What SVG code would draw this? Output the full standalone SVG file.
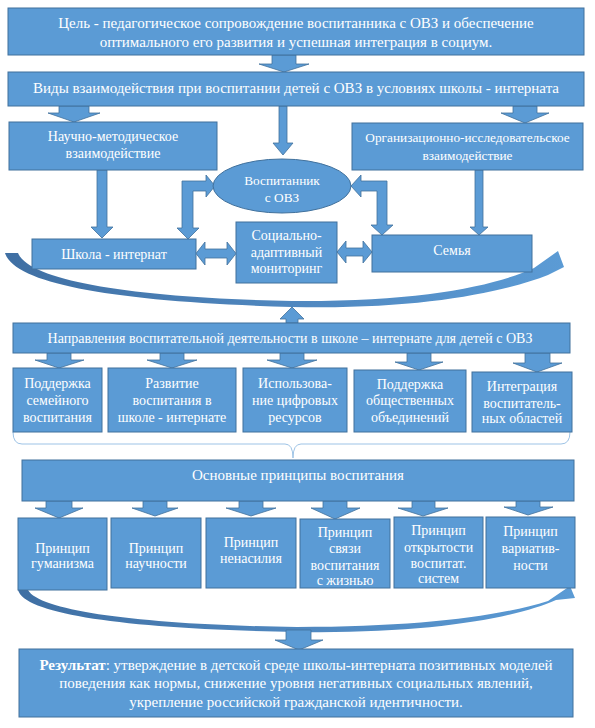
<svg xmlns="http://www.w3.org/2000/svg" width="595" height="728" viewBox="0 0 595 728">
<style>
.box{fill:#5B9BD5;stroke:#41719C;stroke-width:1}
.arr{fill:#5B9BD5;stroke:#41719C;stroke-width:0.8}
.t{font-family:"Liberation Serif","Times New Roman",serif;fill:#fff;text-anchor:middle;font-size:15px}
.s14{font-size:14px}
.s13{font-size:13.3px}
.brace{fill:none;stroke:#9DC3E6;stroke-width:1}
</style>
<defs>
<linearGradient id="cg" x1="0" y1="0" x2="1" y2="0">
<stop offset="0" stop-color="#3F6FA3"/>
<stop offset="0.5" stop-color="#4F87BF"/>
<stop offset="1" stop-color="#5B9BD5"/>
</linearGradient>
</defs>
<rect width="595" height="728" fill="#fff"/>

<g id="connectors">
<path d="M5,253 C15,285 120,302 292,307 C420,310 505,292 548,275 L564,267 L558,251 L534,268 C495,286 420,302 292,301 C140,298 30,282 18,253 Z" fill="url(#cg)"/>
<path d="M18,590 C25,615 130,629 297,632 C430,634 515,618 556,600 L575,598 L570,586 L548,601 C500,616 420,627 297,627 C150,625 40,612 28,590 Z" fill="url(#cg)"/>
<polygon class="arr" points="272,55 296,55 296,64 309,64 284,72 259,64 272,64"/>
<polygon class="arr" points="59,106 89,106 89,113 100,113 74,122 48,113 59,113"/>
<polygon class="arr" points="279,106 287,106 287,143 293,143 283,155 273,143 279,143"/>
<polygon class="arr" points="513,106 537,106 537,113 549,113 525,123 501,113 513,113"/>
<polygon class="arr" points="97,170 107,170 107,227 113,227 102,238 91,227 97,227"/>
<polygon class="arr" points="475,170 483,170 483,227 488,227 479,235 470,227 475,227"/>
<polygon class="arr" points="182,181 206,181 206,175 215,186 206,197 206,191 193,191 193,228 199,228 188,239 177,228 182,228"/>
<polygon class="arr" points="387,181 361,181 361,175 351,186 361,197 361,191 377,191 377,225 371,225 382,235 393,225 387,225"/>
<polygon class="arr" points="196,253.5 205,242 205,249 227,249 227,242 236,253.5 227,265 227,258 205,258 205,265"/>
<polygon class="arr" points="337,252 346,241 346,248 363,248 363,241 372,252 363,263 363,256 346,256 346,263"/>
<polygon class="arr" points="286,323 298,323 298,319 304,319 292,307 280,319 286,319"/>
<polygon class="arr" points="47,353 71,353 71,360 84,360 59,368 35,360 47,360"/>
<polygon class="arr" points="160,353 184,353 184,360 197,360 172,368 147,360 160,360"/>
<polygon class="arr" points="280,353 304,353 304,360 317,360 292,368 267,360 280,360"/>
<polygon class="arr" points="407,353 431,353 431,362 443,362 419,370 395,362 407,362"/>
<polygon class="arr" points="525,353 550,353 550,363 562,363 537,372 513,363 525,363"/>
<path class="brace" d="M13,432 Q13,444 22,444 L285,444 Q293,444 293,458 Q293,444 301,444 L561,444 Q570,444 570,432"/>
<polygon class="arr" points="46,501 72,501 72,508 83,508 59,518 35,508 46,508"/>
<polygon class="arr" points="143,501 167,501 167,508 178,508 155,516 132,508 143,508"/>
<polygon class="arr" points="239,501 263,501 263,508 276,508 251,516 226,508 239,508"/>
<polygon class="arr" points="323,501 347,501 347,508 360,508 335,519 311,508 323,508"/>
<polygon class="arr" points="412,501 435,501 435,508 448,508 423,516 398,508 412,508"/>
<polygon class="arr" points="516,501 540,501 540,507 553,507 528,515 504,507 516,507"/>
<polygon class="arr" points="286,630 311,630 311,640 323,640 299,650 275,640 286,640"/>
</g>

<g id="goal">
<rect class="box" x="8" y="8" width="576" height="47"/>
<text class="t" x="296" y="28">Цель - педагогическое сопровождение воспитанника с ОВЗ и обеспечение</text>
<text class="t" x="296" y="47">оптимального его развития и успешная интеграция в социум.</text>
</g>
<g id="types">
<rect class="box" x="8" y="72" width="576" height="34"/>
<text class="t" x="296" y="93">Виды взаимодействия при воспитании детей с ОВЗ в условиях школы - интерната</text>
</g>
<g id="sci">
<rect class="box" x="9" y="122" width="208" height="48"/>
<text class="t s14" x="113" y="141">Научно-методическое</text>
<text class="t s14" x="113" y="158">взаимодействие</text>
</g>
<g id="org">
<rect class="box" x="352" y="123" width="231" height="47"/>
<text class="t s13" x="467.5" y="142">Организационно-исследовательское</text>
<text class="t s13" x="467.5" y="160">взаимодействие</text>
</g>
<g id="pupil">
<ellipse class="box" cx="282" cy="186" rx="69" ry="27"/>
<text class="t s13" x="282" y="185">Воспитанник</text>
<text class="t s13" x="282" y="202">с ОВЗ</text>
</g>
<g id="school">
<rect class="box" x="32" y="239" width="164" height="30"/>
<text class="t s14" x="114" y="259">Школа - интернат</text>
</g>
<g id="monitor">
<rect class="box" x="236" y="222" width="101" height="61"/>
<text class="t s14" x="286.5" y="240">Социально-</text>
<text class="t s14" x="286.5" y="257">адаптивный</text>
<text class="t s14" x="286.5" y="273">мониторинг</text>
</g>
<g id="family">
<rect class="box" x="372" y="235" width="160" height="37"/>
<text class="t s14" x="452" y="255">Семья</text>
</g>
<g id="directions">
<rect class="box" x="13" y="323" width="557" height="30"/>
<text class="t s14" x="290" y="343">Направления воспитательной деятельности в школе – интернате для детей с ОВЗ</text>
</g>
<g id="d1">
<rect class="box" x="13" y="368" width="89" height="64"/>
<text class="t s14" x="57.5" y="388">Поддержка</text>
<text class="t s14" x="57.5" y="405">семейного</text>
<text class="t s14" x="57.5" y="422">воспитания</text>
</g>
<g id="d2">
<rect class="box" x="108" y="368" width="128" height="64"/>
<text class="t s14" x="172" y="388">Развитие</text>
<text class="t s14" x="172" y="405">воспитания в</text>
<text class="t s14" x="172" y="422">школе - интернате</text>
</g>
<g id="d3">
<rect class="box" x="243" y="368" width="104" height="64"/>
<text class="t s14" x="295" y="388">Использова-</text>
<text class="t s14" x="295" y="405">ние цифровых</text>
<text class="t s14" x="295" y="422">ресурсов</text>
</g>
<g id="d4">
<rect class="box" x="354" y="370" width="112" height="62"/>
<text class="t s14" x="410" y="389">Поддержка</text>
<text class="t s14" x="410" y="405">общественных</text>
<text class="t s14" x="410" y="422">объединений</text>
</g>
<g id="d5">
<rect class="box" x="472" y="372" width="100" height="60"/>
<text class="t s14" x="522" y="391">Интеграция</text>
<text class="t s14" x="522" y="408">воспитатель-</text>
<text class="t s14" x="522" y="423">ных областей</text>
</g>
<g id="principles">
<rect class="box" x="22" y="460" width="552" height="41"/>
<text class="t" x="298" y="480">Основные принципы воспитания</text>
</g>
<g id="p1">
<rect class="box" x="18" y="518" width="89" height="72"/>
<text class="t s14" x="62.5" y="553">Принцип</text>
<text class="t s14" x="62.5" y="568">гуманизма</text>
</g>
<g id="p2">
<rect class="box" x="111" y="518" width="90" height="70"/>
<text class="t s14" x="156" y="553">Принцип</text>
<text class="t s14" x="156" y="568">научности</text>
</g>
<g id="p3">
<rect class="box" x="206" y="518" width="90" height="70"/>
<text class="t s14" x="251" y="547">Принцип</text>
<text class="t s14" x="251" y="563">ненасилия</text>
</g>
<g id="p4">
<rect class="box" x="300" y="519" width="90" height="69"/>
<text class="t s14" x="345" y="537">Принцип</text>
<text class="t s14" x="345" y="553">связи</text>
<text class="t s14" x="345" y="570">воспитания</text>
<text class="t s14" x="345" y="585">с жизнью</text>
</g>
<g id="p5">
<rect class="box" x="394" y="517" width="89" height="71"/>
<text class="t s14" x="438.5" y="535">Принцип</text>
<text class="t s14" x="438.5" y="552">открытости</text>
<text class="t s14" x="438.5" y="568">воспитат.</text>
<text class="t s14" x="438.5" y="583">систем</text>
</g>
<g id="p6">
<rect class="box" x="486" y="517" width="89" height="71"/>
<text class="t s14" x="530.5" y="536">Принцип</text>
<text class="t s14" x="530.5" y="553">вариатив-</text>
<text class="t s14" x="530.5" y="570">ности</text>
</g>
<g id="result">
<rect class="box" x="19" y="649" width="554" height="68"/>
<text class="t" x="296" y="670"><tspan font-weight="bold">Результат</tspan>: утверждение в детской среде школы-интерната позитивных моделей</text>
<text class="t" x="296" y="688">поведения как нормы, снижение уровня негативных социальных явлений,</text>
<text class="t" x="296" y="707">укрепление российской гражданской идентичности.</text>
</g>
</svg>
